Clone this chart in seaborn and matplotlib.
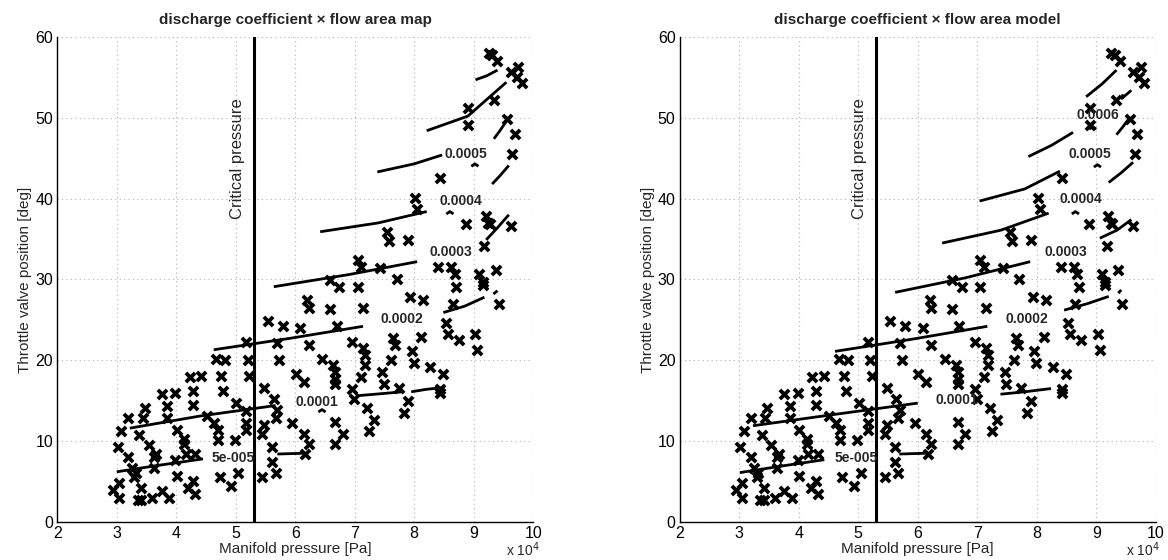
import numpy as np
import pandas as pd
import seaborn as sns
import matplotlib.pyplot as plt

# measured operating points: manifold pressure [x1e4 Pa], throttle angle [deg]
p_meas = [2.94, 3.04, 3.04, 3.02, 3.08, 3.19, 3.19, 3.25, 3.29, 3.32, 3.35, 3.41, 3.41, 3.38,
          3.47, 3.44, 3.54, 3.60, 3.63, 3.63, 3.66, 3.76, 3.76, 3.85, 3.85, 3.88, 3.98, 3.98,
          4.01, 4.01, 4.13, 4.13, 4.16, 4.20, 4.23, 4.29, 4.32, 4.29, 4.29, 4.32, 4.42, 4.51,
          4.63, 4.67, 4.70, 4.70, 4.73, 4.76, 4.79, 4.82, 4.92, 4.98, 5.01, 5.04, 5.17, 5.17,
          5.17, 5.17, 5.20, 5.23, 5.45, 5.48, 5.45, 5.48, 5.54, 5.61, 5.61, 5.64, 5.67, 5.67,
          5.70, 5.70, 5.73, 5.79, 5.95, 6.01, 6.08, 6.17, 6.14, 6.14, 6.20, 6.23, 6.23, 6.23,
          6.45, 6.58, 6.64, 6.67, 6.67, 6.67, 6.67, 6.67, 6.74, 6.70, 6.80, 6.96, 6.96, 6.99,
          7.05, 7.14, 7.18, 7.18, 7.14, 7.11, 7.21, 7.24, 7.33, 7.46, 7.49, 7.61, 7.65, 7.68,
          7.74, 7.83, 7.90, 7.93, 7.96, 7.99, 8.12, 8.15, 8.27, 8.43, 8.43, 8.49, 8.53, 8.56,
          8.65, 8.71, 8.75, 9.03, 9.06, 9.15, 9.43,
          9.25, 9.31, 9.40, 9.62, 9.75, 9.72, 9.81, 9.34, 8.90, 8.90, 9.56, 9.69, 9.65, 8.43,
          8.02, 8.05, 8.87, 9.20, 9.24, 9.27, 9.62, 7.55, 7.58, 7.90, 9.18, 7.05, 7.11, 7.43,
          7.71, 8.40, 8.62, 8.68, 9.09, 9.37, 6.58, 9.15]
theta_meas = [4.0, 2.9, 4.8, 9.3, 11.2, 12.8, 8.0, 6.7, 5.5, 6.1, 2.7, 4.2, 2.7, 10.7,
              14.1, 12.8, 9.5, 2.9, 8.0, 6.7, 8.4, 15.8, 3.8, 14.3, 12.8, 2.9, 16.0, 7.6,
              5.7, 11.4, 10.3, 9.7, 8.4, 4.2, 17.9, 5.1, 3.4, 16.2, 14.5, 8.4, 18.1, 13.1,
              12.2, 20.2, 10.1, 11.4, 5.5, 18.1, 16.2, 20.0, 4.4, 10.1, 14.7, 6.1, 22.3, 13.7,
              12.2, 11.4, 20.0, 18.1, 5.5, 16.6, 10.9, 12.0, 24.8, 9.3, 7.4, 15.2, 6.1, 12.8,
              13.9, 22.1, 20.0, 24.2, 12.2, 18.3, 24.0, 8.4, 17.3, 10.9, 27.4, 26.5, 9.7, 21.9,
              20.2, 26.3, 19.4, 18.5, 17.7, 17.1, 12.4, 9.7, 29.1, 24.2, 10.9, 22.3, 16.4, 15.2,
              29.1, 21.5, 20.6, 19.4, 26.5, 17.9, 14.1, 11.2, 12.6, 18.5, 17.1, 20.0, 22.7, 21.9,
              16.6, 13.5, 14.9, 27.8, 21.1, 19.6, 22.9, 27.4, 19.2, 16.4, 16.0, 18.3, 24.6, 23.2,
              26.9, 29.1, 22.5, 23.2, 21.3, 29.3, 26.9,
              58.0, 57.8, 57.0, 55.7, 56.3, 55.1, 54.3, 52.2, 51.2, 49.1, 49.9, 48.0, 45.5, 42.6,
              40.1, 38.7, 36.8, 37.8, 37.0, 36.8, 36.6, 35.9, 34.7, 34.9, 34.1, 32.4, 31.6, 31.4,
              30.1, 31.6, 31.6, 30.7, 30.7, 31.2, 29.9, 29.7]

# iso-lines of Cd*A (map, left panel): list of (x, y) segments
map_lines = [
    ([3.00, 3.70, 4.45], [6.2, 7.0, 7.8]),
    ([5.70, 6.17], [8.4, 8.5]),
    ([3.22, 4.40, 5.67], [11.6, 13.1, 14.4]),
    ([6.39, 6.45, 6.51], [13.6, 13.9, 13.6]),
    ([7.02, 7.50, 7.80], [15.6, 15.9, 16.1]),
    ([7.95, 8.20, 8.45], [16.1, 16.4, 16.6]),
    ([4.63, 5.90, 7.14], [21.3, 22.7, 24.2]),
    ([8.49, 8.85, 9.18], [25.9, 26.7, 27.8]),
    ([9.33, 9.40], [28.2, 28.6]),
    ([5.64, 6.90, 8.05], [29.1, 30.6, 32.2]),
    ([9.21, 9.40, 9.59], [34.9, 36.4, 38.0]),
    ([6.42, 7.40, 8.21], [35.9, 37.0, 38.4]),
    ([8.54, 8.60, 8.66], [38.1, 38.4, 38.1]),
    ([9.31, 9.45, 9.59], [41.8, 42.9, 44.1]),
    ([7.38, 8.00, 8.47], [43.3, 44.3, 45.4]),
    ([8.96, 9.02, 9.08], [44.0, 44.3, 44.0]),
    ([9.34, 9.45, 9.56], [47.4, 48.5, 49.7]),
    ([8.21, 8.90, 9.55], [48.4, 50.2, 54.4]),
    ([9.03, 9.22, 9.40], [54.7, 55.2, 55.9]),
]
map_labels = ["5e-005", "0.0001", "0.0002", "0.0003", "0.0004", "0.0005"]
map_label_x = [4.95, 6.36, 7.80, 8.62, 8.78, 8.87]
map_label_y = [7.9, 14.8, 25.1, 33.4, 39.7, 45.5]

# iso-lines of Cd*A (model, right panel)
model_lines = [
    ([3.01, 3.70, 4.43], [6.1, 6.9, 7.7]),
    ([5.69, 6.16], [8.4, 8.5]),
    ([3.23, 4.60, 6.00], [11.9, 13.3, 14.7]),
    ([7.39, 7.80, 8.24], [15.8, 16.1, 16.5]),
    ([4.61, 5.90, 7.17], [21.1, 22.6, 24.2]),
    ([8.46, 8.85, 9.21], [26.2, 27.0, 27.9]),
    ([9.37, 9.42], [28.3, 28.7]),
    ([5.62, 6.80, 7.89], [28.4, 30.2, 32.2]),
    ([9.06, 9.35, 9.59], [35.1, 36.1, 37.4]),
    ([6.41, 7.40, 8.20], [34.5, 36.1, 38.2]),
    ([8.59, 8.65, 8.71], [38.1, 38.4, 38.1]),
    ([9.21, 9.42, 9.62], [42.0, 43.2, 44.5]),
    ([7.04, 7.80, 8.39], [39.7, 41.2, 43.4]),
    ([8.96, 9.02, 9.08], [43.9, 44.2, 43.9]),
    ([9.34, 9.45, 9.56], [47.9, 48.9, 50.0]),
    ([7.86, 8.25, 8.61], [45.2, 46.6, 48.2]),
    ([8.88, 8.94, 9.00], [48.6, 48.9, 48.6]),
    ([8.83, 9.10, 9.34], [52.6, 54.2, 55.9]),
    ([9.45, 9.43, 9.59], [52.9, 52.4, 53.4]),
]
model_labels = ["5e-005", "0.0001", "0.0002", "0.0003", "0.0004", "0.0005", "0.0006"]
model_label_x = [4.96, 6.66, 7.83, 8.49, 8.74, 8.90, 9.02]
model_label_y = [7.9, 15.1, 25.1, 33.4, 39.9, 45.5, 50.3]

p_crit = 5.3
titles = ["discharge coefficient \u00d7 flow area map",
          "discharge coefficient \u00d7 flow area model"]

sns.set_style("white")
plt.rcParams['font.family'] = ['Liberation Sans', 'DejaVu Sans']

df = pd.DataFrame({"p": p_meas, "theta": theta_meas})

fig = plt.figure(figsize=(11.68, 5.6), dpi=100)
ax1 = fig.add_axes([0.049, 0.068, 0.4075, 0.866])
ax2 = fig.add_axes([0.582, 0.068, 0.4075, 0.866])

panels = [(ax1, map_lines, map_labels, map_label_x, map_label_y),
          (ax2, model_lines, model_labels, model_label_x, model_label_y)]

for i, (ax, lines, labs, lx, ly) in enumerate(panels):
    sns.scatterplot(data=df, x="p", y="theta", marker="x", s=44, color="black",
                    linewidth=2.7, ax=ax, zorder=3)
    for xs, ys in lines:
        ax.plot(xs, ys, color="black", lw=2.0, solid_capstyle="butt")
    for t, x, y in zip(labs, lx, ly):
        ax.text(x, y, t, fontsize=10, fontweight="bold", ha="center", va="center", zorder=4)
    ax.axvline(p_crit, color="black", lw=2.2)
    ax.text(p_crit - 0.15, 45, "Critical pressure", rotation=90, ha="right", va="center",
            fontsize=12)
    ax.set_xlim(2, 10)
    ax.set_ylim(0, 60)
    ax.set_xticks(range(2, 11))
    ax.set_yticks(range(0, 61, 10))
    ax.grid(True, color="#b0b0b0", linestyle=(0, (1, 3)), lw=0.8)
    ax.tick_params(direction="in", length=4, labelsize=11.5, colors="black", pad=3)
    for s in ["top", "right"]:
        ax.spines[s].set_visible(False)
    for s in ["left", "bottom"]:
        ax.spines[s].set_color("black")
        ax.spines[s].set_linewidth(1.0)
    ax.set_xlabel("Manifold pressure [Pa]", fontsize=11, labelpad=1)
    ax.set_ylabel("Throttle valve position [deg]", fontsize=11, labelpad=2)
    ax.set_title(titles[i], fontsize=11, fontweight="bold", pad=9)

fig.text(540 / 1168, 0.018, "x 10$^4$", ha="right", va="center", fontsize=10)
fig.text(1160 / 1168, 0.018, "x 10$^4$", ha="right", va="center", fontsize=10)

plt.savefig("out.png", dpi=100)
